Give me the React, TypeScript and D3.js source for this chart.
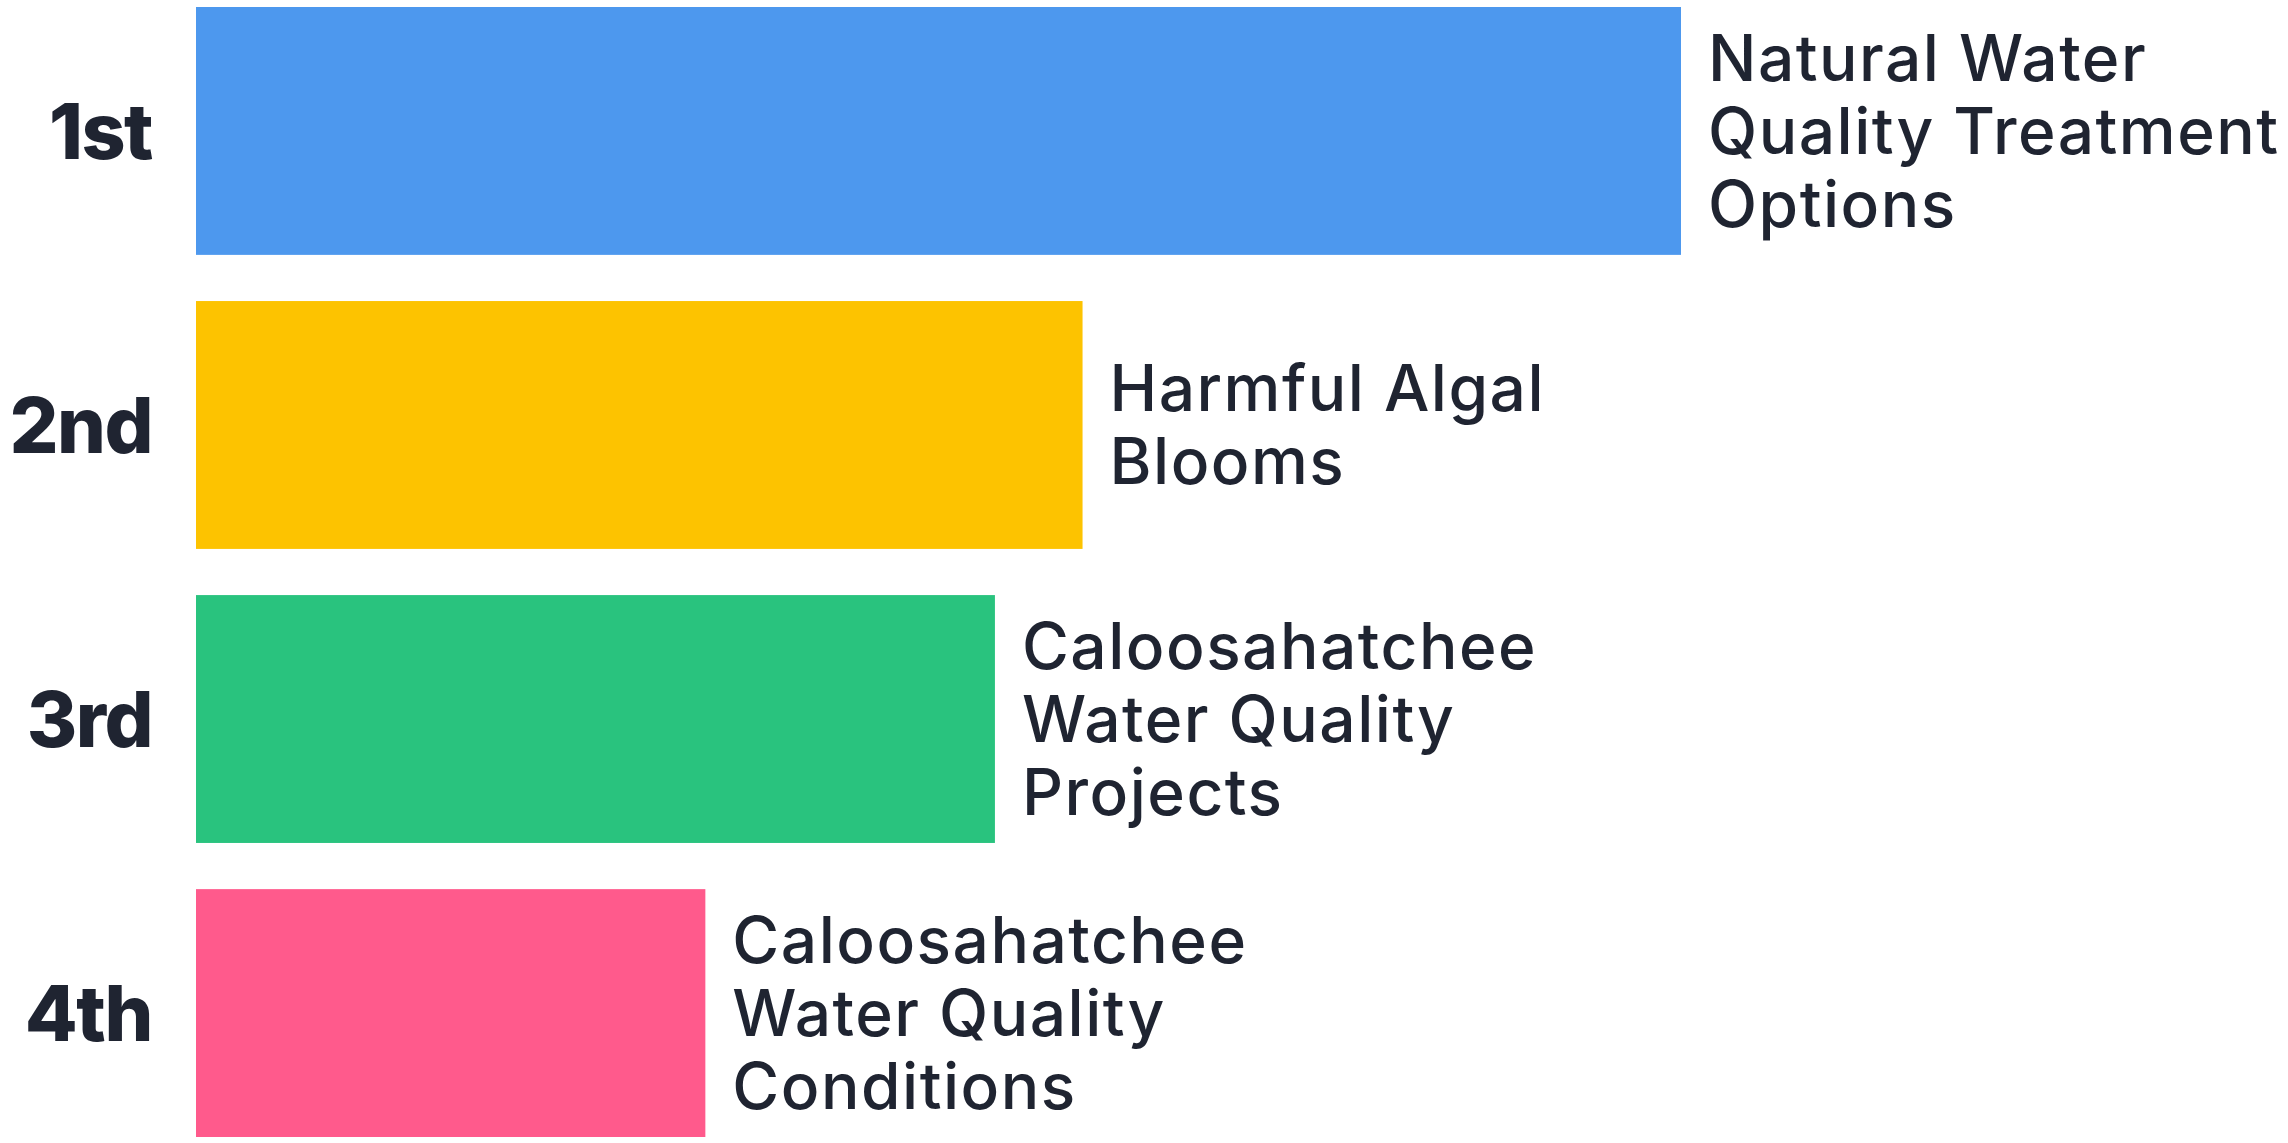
import { useMemo } from "react"
import { scaleBand, scaleLinear } from "d3"

const ranks = ["1st", "2nd", "3rd", "4th"]
const scores = [100, 59.7, 53.8, 34.3]
const topics = [
  ["Natural Water", "Quality Treatment", "Options"],
  ["Harmful Algal", "Blooms"],
  ["Caloosahatchee", "Water Quality", "Projects"],
  ["Caloosahatchee", "Water Quality", "Conditions"],
]
const colors = ["#4d98ee", "#fdc300", "#29c37e", "#ff5a8c"]

const width = 2288
const height = 1143
const textColor = "#1f2431"
const fontFamily = "Inter, 'Noto Sans', sans-serif"

export default function App() {
  const x = useMemo(() => scaleLinear().domain([0, 100]).range([196, 1681]), [])
  const y = useMemo(() => scaleBand<string>().domain(ranks).range([7, 1137]).paddingInner(0.157).paddingOuter(0), [])

  const lineHeight = 73
  const capHalf = 23

  return (
    <svg width={width} height={height} viewBox={`0 0 ${width} ${height}`} style={{ position: "absolute", left: 0, top: 0, background: "#fff" }}>
      {ranks.map((rank, i) => {
        const top = y(rank) ?? 0
        const cy = top + y.bandwidth() / 2
        const lines = topics[i]
        return (
          <g key={rank}>
            <rect x={x(0)} y={top} width={x(scores[i]) - x(0)} height={y.bandwidth()} fill={colors[i]} />
            <text x={152} y={cy + 28} textAnchor="end" fontFamily={fontFamily} fontWeight={800} fontSize={77} letterSpacing={-1.5} fill={textColor}>
              {rank}
            </text>
            <text fontFamily={fontFamily} fontWeight={500} fontSize={64} letterSpacing={1.5} fill={textColor}>
              {lines.map((line, j) => (
                <tspan key={j} x={x(scores[i]) + 27} y={cy + (j - (lines.length - 1) / 2) * lineHeight + capHalf}>
                  {line}
                </tspan>
              ))}
            </text>
          </g>
        )
      })}
    </svg>
  )
}
